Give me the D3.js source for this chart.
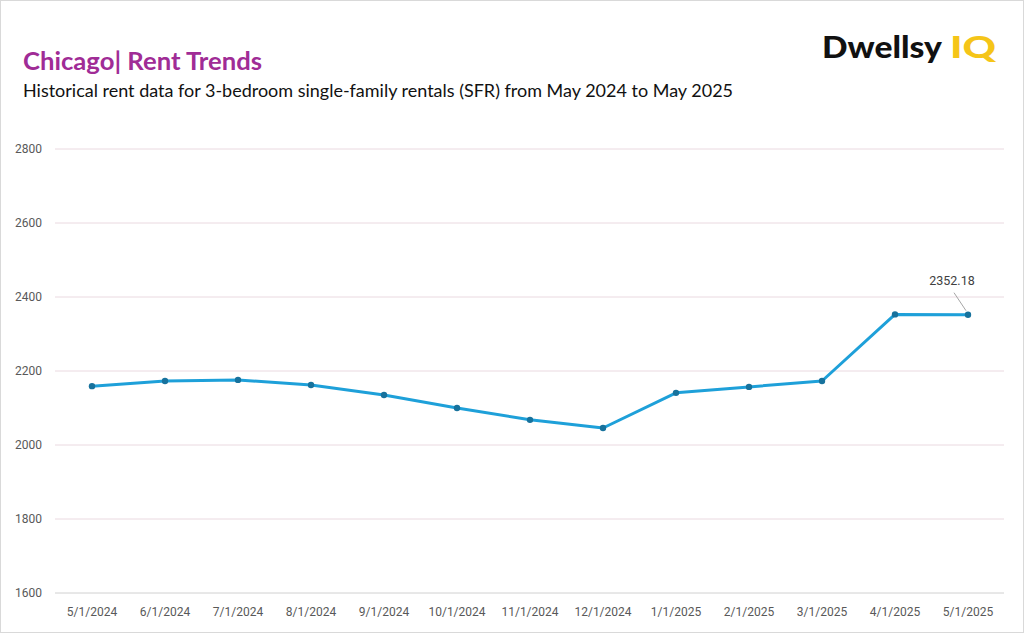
<!DOCTYPE html>
<html><head><meta charset="utf-8">
<script src="https://cdn.jsdelivr.net/npm/d3@7"></script>
<style>body{margin:0;background:#fff}svg{display:block}</style>
</head><body><div id="chart"></div>
<script>
const dates = ['5/1/2024','6/1/2024','7/1/2024','8/1/2024','9/1/2024','10/1/2024','11/1/2024','12/1/2024','1/1/2025','2/1/2025','3/1/2025','4/1/2025','5/1/2025']
const rents = [2159, 2173, 2176, 2162, 2135, 2100, 2068, 2046, 2141, 2157, 2173, 2353, 2352.18]
const yTicks = [1600, 1800, 2000, 2200, 2400, 2600, 2800]

const W = 1024, H = 633
const margin = { top: 149, right: 20, bottom: 40, left: 55 }
const svg = d3.select('#chart').append('svg').attr('width', W).attr('height', H)
  .style('font-family', 'Roboto, "Open Sans", sans-serif')

svg.append('rect').attr('x', 0.5).attr('y', 0.5).attr('width', W - 1).attr('height', H - 1)
  .attr('fill', '#fff').attr('stroke', '#d9d9d9')

const x = d3.scalePoint().domain(dates).range([92, 968])
const y = d3.scaleLinear().domain([1600, 2800]).range([593, 149])

// gridlines
svg.append('g').selectAll('line').data(yTicks.slice(1)).join('line')
  .attr('x1', margin.left).attr('x2', 1004)
  .attr('y1', d => y(d)).attr('y2', d => y(d))
  .attr('stroke', '#ead9e0').attr('stroke-width', 1)
svg.append('line').attr('x1', margin.left).attr('x2', 1004).attr('y1', y(1600)).attr('y2', y(1600))
  .attr('stroke', '#d0d0d0')

svg.append('g').selectAll('text').data(yTicks).join('text')
  .attr('x', 42).attr('y', d => y(d) + 4).attr('text-anchor', 'end')
  .attr('font-size', 12).attr('fill', '#595959').text(d => d)

svg.append('g').selectAll('text').data(dates).join('text')
  .attr('x', d => x(d)).attr('y', 616).attr('text-anchor', 'middle')
  .attr('font-size', 12).attr('fill', '#595959').text(d => d)

const line = d3.line().x((d, i) => x(dates[i])).y(d => y(d))
svg.append('path').datum(rents).attr('d', line).attr('fill', 'none')
  .attr('stroke', '#1ea0d9').attr('stroke-width', 3).attr('stroke-linejoin', 'round')
svg.append('g').selectAll('circle').data(rents).join('circle')
  .attr('cx', (d, i) => x(dates[i])).attr('cy', d => y(d)).attr('r', 3.2)
  .attr('fill', '#17729d')

// last value label
const lx = x(dates[12]), ly = y(rents[12])
svg.append('line').attr('x1', lx - 2).attr('y1', ly - 4).attr('x2', lx - 14).attr('y2', ly - 22)
  .attr('stroke', '#a6a6a6')
svg.append('text').attr('x', lx - 16).attr('y', ly - 30).attr('text-anchor', 'middle')
  .attr('font-size', 12.5).attr('fill', '#404040').text(d3.format('.2f')(rents[12]))

// titles
svg.append('text').attr('x', 23).attr('y', 70).attr('font-size', 24).attr('font-weight', 'bold')
  .attr('fill', '#a02c96').attr('font-family', 'Lato, sans-serif')
  .attr('textLength', 239).attr('lengthAdjust', 'spacingAndGlyphs').text('Chicago|  Rent Trends')
svg.append('text').attr('x', 23).attr('y', 97).attr('font-size', 18).attr('fill', '#111')
  .attr('font-family', 'Lato, sans-serif')
  .attr('textLength', 710).attr('lengthAdjust', 'spacingAndGlyphs')
  .text('Historical rent data for 3-bedroom single-family rentals (SFR) from May 2024 to May 2025')

// logo
svg.append('text').attr('x', 822).attr('y', 58).attr('font-size', 31).attr('font-weight', 900)
  .attr('font-family', 'Lato, sans-serif').attr('fill', '#111')
  .attr('textLength', 120).attr('lengthAdjust', 'spacingAndGlyphs').text('Dwellsy')
svg.append('text').attr('x', 950).attr('y', 58).attr('font-size', 31).attr('font-weight', 900)
  .attr('font-family', 'Lato, sans-serif').attr('fill', '#f5c518')
  .attr('textLength', 46).attr('lengthAdjust', 'spacingAndGlyphs').text('IQ')
</script></body></html>
